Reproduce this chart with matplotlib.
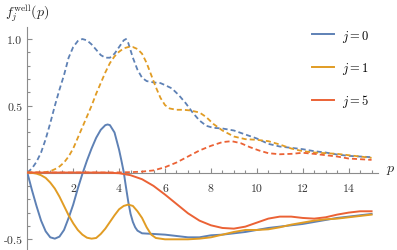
import matplotlib
matplotlib.use("Agg")
import matplotlib.pyplot as plt
from matplotlib.ticker import MultipleLocator

plt.rcParams['mathtext.fontset'] = 'cm'

# colores por defecto de Mathematica
azul = '#5E81B5'
naranja = '#E19C24'
rojo = '#EB6235'

# j = 0, linea continua
p0 = [0, 0.2, 0.4, 0.6, 0.8, 1.0, 1.2, 1.4, 1.6, 1.8, 2.0, 2.2, 2.4, 2.6, 2.8,
      3.0, 3.2, 3.4, 3.5, 3.6, 3.8, 4.0, 4.1, 4.2, 4.3, 4.4, 4.5, 4.6, 4.7, 4.8,
      5.0, 5.5, 6.0, 6.5, 7.0, 7.5, 8.0, 8.5, 9.0, 9.5, 10.0, 10.5, 11.0, 11.5,
      12.0, 12.5, 13.0, 13.5, 14.0, 14.5, 15.0]
f0 = [0, -0.13, -0.25, -0.36, -0.44, -0.485, -0.495, -0.48, -0.43, -0.34, -0.24,
      -0.12, -0.01, 0.09, 0.18, 0.26, 0.32, 0.355, 0.36, 0.355, 0.30, 0.17, 0.09,
      0.005, -0.11, -0.22, -0.31, -0.37, -0.41, -0.435, -0.455, -0.46, -0.465,
      -0.475, -0.485, -0.485, -0.47, -0.465, -0.455, -0.445, -0.43, -0.415,
      -0.405, -0.395, -0.385, -0.37, -0.355, -0.34, -0.33, -0.32, -0.31]

# j = 1, linea continua
p1 = [0, 0.2, 0.4, 0.6, 0.8, 1.0, 1.2, 1.4, 1.6, 1.8, 2.0, 2.2, 2.4, 2.6, 2.8,
      3.0, 3.2, 3.4, 3.6, 3.8, 4.0, 4.2, 4.4, 4.6, 4.8, 5.0, 5.2, 5.4, 5.6, 5.8,
      6.0, 6.5, 7.0, 7.5, 8.0, 8.5, 9.0, 9.5, 10.0, 10.5, 11.0, 11.5, 12.0, 12.5,
      13.0, 13.5, 14.0, 14.5, 15.0]
f1 = [0, -0.002, -0.008, -0.02, -0.04, -0.075, -0.12, -0.18, -0.25, -0.32, -0.38,
      -0.43, -0.465, -0.488, -0.495, -0.49, -0.46, -0.42, -0.37, -0.32, -0.275,
      -0.25, -0.24, -0.25, -0.29, -0.34, -0.41, -0.465, -0.49, -0.495, -0.5,
      -0.5, -0.5, -0.495, -0.485, -0.465, -0.445, -0.43, -0.43, -0.425, -0.41,
      -0.39, -0.375, -0.36, -0.35, -0.345, -0.335, -0.325, -0.315]

# j = 5, linea continua
p5 = [0, 1.0, 2.0, 3.0, 3.5, 4.0, 4.5, 5.0, 5.5, 6.0, 6.5, 7.0, 7.5, 8.0, 8.5,
      9.0, 9.5, 10.0, 10.5, 11.0, 11.5, 12.0, 12.5, 13.0, 13.5, 14.0, 14.5, 15.0]
f5 = [0, 0, 0, 0, -0.001, -0.005, -0.02, -0.05, -0.1, -0.165, -0.235, -0.305,
      -0.36, -0.395, -0.415, -0.42, -0.405, -0.375, -0.345, -0.33, -0.33, -0.34,
      -0.345, -0.335, -0.315, -0.3, -0.29, -0.29]

# j = 0, discontinua
q0 = [0, 0.2, 0.4, 0.6, 0.8, 1.0, 1.2, 1.4, 1.6, 1.8, 2.0, 2.2, 2.4, 2.6, 2.8,
      3.0, 3.2, 3.4, 3.6, 3.8, 4.0, 4.2, 4.3, 4.4, 4.6, 4.8, 5.0, 5.2, 5.5, 5.8,
      6.0, 6.3, 6.6, 6.9, 7.2, 7.5, 7.8, 8.1, 8.5, 9.0, 9.5, 10.0, 10.5, 11.0,
      11.5, 12.0, 12.5, 13.0, 13.5, 14.0, 14.5, 15.0]
g0 = [0, 0.03, 0.08, 0.15, 0.25, 0.37, 0.5, 0.62, 0.73, 0.86, 0.94, 0.985, 1.0,
      0.99, 0.96, 0.92, 0.88, 0.86, 0.86, 0.89, 0.94, 0.99, 1.0, 0.97, 0.86,
      0.77, 0.71, 0.685, 0.675, 0.67, 0.655, 0.63, 0.58, 0.52, 0.45, 0.39, 0.35,
      0.335, 0.33, 0.315, 0.285, 0.255, 0.215, 0.195, 0.185, 0.175, 0.16, 0.15,
      0.135, 0.125, 0.12, 0.115]

# j = 1, discontinua
q1 = [0, 0.5, 0.8, 1.0, 1.2, 1.4, 1.6, 1.8, 2.0, 2.2, 2.4, 2.6, 2.8, 3.0, 3.2,
      3.4, 3.6, 3.8, 4.0, 4.2, 4.4, 4.6, 4.8, 5.0, 5.2, 5.4, 5.6, 5.8, 6.0, 6.2,
      6.5, 6.8, 7.1, 7.5, 7.8, 8.1, 8.5, 9.0, 9.5, 10.0, 10.5, 11.0, 11.5, 12.0,
      12.5, 13.0, 13.5, 14.0, 14.5, 15.0]
g1 = [0, 0, 0.003, 0.01, 0.025, 0.045, 0.075, 0.12, 0.18, 0.26, 0.34, 0.42, 0.5,
      0.59, 0.67, 0.75, 0.82, 0.87, 0.905, 0.93, 0.94, 0.94, 0.925, 0.89, 0.82,
      0.73, 0.64, 0.56, 0.505, 0.48, 0.47, 0.47, 0.465, 0.45, 0.415, 0.365,
      0.315, 0.27, 0.25, 0.245, 0.235, 0.21, 0.18, 0.16, 0.15, 0.145, 0.14, 0.13,
      0.12, 0.11]

# j = 5, discontinua
q5 = [0, 1.0, 2.0, 3.0, 3.5, 4.0, 4.5, 5.0, 5.5, 6.0, 6.5, 7.0, 7.5, 8.0, 8.5,
      8.9, 9.3, 9.7, 10.1, 10.5, 11.0, 11.5, 12.0, 12.5, 13.0, 13.5, 14.0, 14.5,
      15.0]
g5 = [0, 0, 0, 0, 0, 0.001, 0.003, 0.007, 0.016, 0.04, 0.075, 0.12, 0.165, 0.2,
      0.228, 0.235, 0.22, 0.19, 0.165, 0.145, 0.137, 0.14, 0.148, 0.14, 0.13,
      0.12, 0.105, 0.1, 0.095]

etiquetas = ['$j=0$', '$j=1$', '$j=5$']
xticks = [2, 4, 6, 8, 10, 12, 14]
yticks = [-0.5, 0.5, 1.0]
ylabels = ['-0.5', '0.5', '1.0']

fig = plt.figure(figsize=(3.97, 2.51), dpi=100)
ax = fig.add_axes([27.3 / 397, 0.0, (378 - 27.3) / 397, (251 - 28) / 251])

discont = (0, (2.8, 1.7))
ax.plot(q0, g0, color=azul, lw=1.3, ls=discont, zorder=3)
ax.plot(q1, g1, color=naranja, lw=1.3, ls=discont, zorder=3)
ax.plot(q5, g5, color=rojo, lw=1.3, ls=discont, zorder=3)
l0, = ax.plot(p0, f0, color=azul, lw=1.4, label=etiquetas[0], zorder=4)
l1, = ax.plot(p1, f1, color=naranja, lw=1.4, label=etiquetas[1], zorder=4)
l5, = ax.plot(p5, f5, color=rojo, lw=1.4, label=etiquetas[2], zorder=4)

ax.set_xlim(0, 15.28)
ax.set_ylim(-0.58, 1.09)

# ejes estilo Mathematica, cruzando en el origen
ax.patch.set_visible(False)
for s in ['top', 'right']:
    ax.spines[s].set_visible(False)
ax.spines['left'].set_position(('data', 0))
ax.spines['bottom'].set_position(('data', 0))
for s in ['left', 'bottom']:
    ax.spines[s].set_color('#8c8c8c')
    ax.spines[s].set_linewidth(0.8)
    ax.spines[s].set_zorder(2)

# etiquetas de los ejes en cmr10 (viene con matplotlib)
ax.set_xticks(xticks, [str(v) for v in xticks], fontfamily='cmr10')
ax.set_yticks(yticks, ylabels, fontfamily='cmr10')
ax.xaxis.set_minor_locator(MultipleLocator(0.5))
ax.yaxis.set_minor_locator(MultipleLocator(0.1))
ax.tick_params(which='both', direction='in', color='#8c8c8c', width=0.8,
               labelsize=8.5, labelcolor='#333333')
ax.tick_params(which='major', length=3.5)
ax.tick_params(which='minor', length=2)
ax.tick_params(axis='x', pad=8)
ax.tick_params(axis='y', pad=3.5)

fig.text(0.012, 0.948, r'$f_j^{\mathrm{well}}(p)$', fontsize=10, va='center',
         color='#222222')
fig.text(0.985, 0.323, '$p$', fontsize=10, ha='center', va='center',
         color='#222222')

ax.legend(handles=[l0, l1, l5], loc='upper left', bbox_to_anchor=(312 / 397, 0.885),
          bbox_transform=fig.transFigure, frameon=False, fontsize=9,
          handlelength=1.76, handletextpad=0.6, labelspacing=1.3,
          borderpad=0, borderaxespad=0)

fig.savefig('out.png', dpi=100)
